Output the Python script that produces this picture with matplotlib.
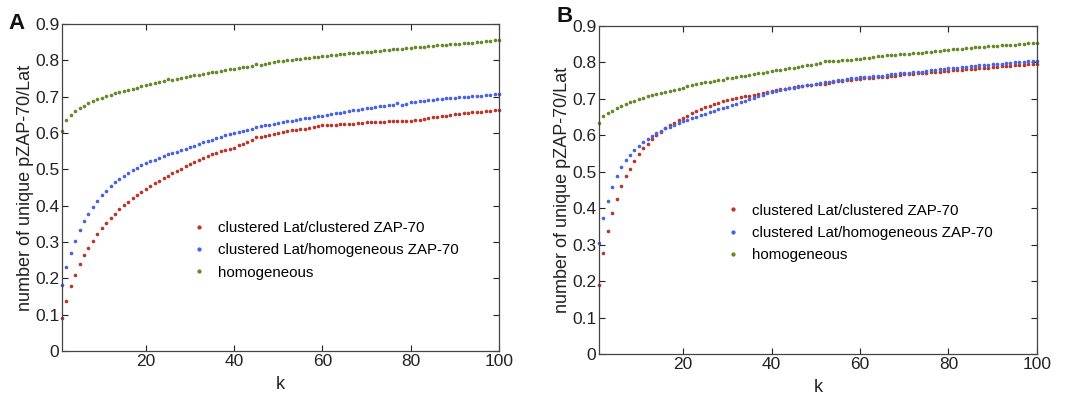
import matplotlib.pyplot as plt

plt.rcParams['font.family'] = ['Liberation Sans', 'DejaVu Sans']

k = list(range(1, 101))

# panel A
a_red = [0.090, 0.138, 0.180, 0.210, 0.240, 0.264, 0.284, 0.304, 0.322, 0.338,
         0.352, 0.366, 0.378, 0.390, 0.401, 0.411, 0.421, 0.430, 0.439, 0.447,
         0.455, 0.462, 0.469, 0.476, 0.483, 0.490, 0.496, 0.502, 0.508, 0.514,
         0.520, 0.525, 0.531, 0.536, 0.541, 0.545, 0.550, 0.554, 0.557, 0.560,
         0.566, 0.571, 0.576, 0.581, 0.588, 0.589, 0.591, 0.595, 0.598, 0.600,
         0.603, 0.605, 0.607, 0.609, 0.612, 0.612, 0.614, 0.617, 0.619, 0.621,
         0.622, 0.623, 0.622, 0.624, 0.625, 0.625, 0.626, 0.627, 0.628, 0.629,
         0.630, 0.630, 0.631, 0.631, 0.632, 0.633, 0.634, 0.634, 0.632, 0.633,
         0.635, 0.637, 0.639, 0.641, 0.643, 0.645, 0.647, 0.648, 0.650, 0.651,
         0.653, 0.655, 0.656, 0.657, 0.658, 0.659, 0.660, 0.661, 0.662, 0.663]
a_blue = [0.182, 0.230, 0.270, 0.304, 0.333, 0.357, 0.377, 0.397, 0.413, 0.428,
          0.441, 0.453, 0.464, 0.474, 0.483, 0.491, 0.498, 0.505, 0.511, 0.517,
          0.522, 0.527, 0.532, 0.537, 0.541, 0.545, 0.549, 0.553, 0.557, 0.561,
          0.565, 0.570, 0.575, 0.578, 0.582, 0.586, 0.590, 0.594, 0.597, 0.600,
          0.603, 0.606, 0.609, 0.612, 0.617, 0.619, 0.621, 0.623, 0.626, 0.628,
          0.630, 0.632, 0.634, 0.636, 0.638, 0.640, 0.642, 0.644, 0.646, 0.648,
          0.650, 0.652, 0.654, 0.656, 0.658, 0.660, 0.662, 0.664, 0.666, 0.668,
          0.670, 0.671, 0.673, 0.675, 0.676, 0.678, 0.682, 0.678, 0.681, 0.684,
          0.686, 0.688, 0.689, 0.690, 0.692, 0.693, 0.694, 0.695, 0.696, 0.697,
          0.698, 0.699, 0.700, 0.701, 0.702, 0.703, 0.704, 0.705, 0.706, 0.707]
a_green = [0.605, 0.635, 0.650, 0.660, 0.668, 0.675, 0.682, 0.688, 0.693, 0.697,
           0.701, 0.705, 0.709, 0.713, 0.716, 0.719, 0.722, 0.725, 0.728, 0.731,
           0.734, 0.737, 0.740, 0.743, 0.749, 0.747, 0.749, 0.752, 0.755, 0.757,
           0.759, 0.761, 0.763, 0.765, 0.767, 0.769, 0.771, 0.773, 0.775, 0.777,
           0.779, 0.781, 0.783, 0.785, 0.790, 0.788, 0.790, 0.792, 0.795, 0.797,
           0.798, 0.800, 0.801, 0.803, 0.804, 0.806, 0.807, 0.809, 0.810, 0.812,
           0.813, 0.814, 0.816, 0.817, 0.818, 0.819, 0.820, 0.821, 0.822, 0.823,
           0.824, 0.826, 0.827, 0.828, 0.829, 0.830, 0.831, 0.832, 0.834, 0.835,
           0.836, 0.837, 0.838, 0.839, 0.840, 0.841, 0.842, 0.843, 0.844, 0.845,
           0.846, 0.847, 0.848, 0.849, 0.850, 0.851, 0.852, 0.853, 0.855, 0.857]

# panel B
b_red = [0.188, 0.276, 0.338, 0.386, 0.425, 0.461, 0.487, 0.508, 0.530, 0.548,
         0.565, 0.577, 0.589, 0.600, 0.610, 0.619, 0.627, 0.635, 0.642, 0.648,
         0.654, 0.660, 0.666, 0.672, 0.677, 0.681, 0.685, 0.689, 0.693, 0.697,
         0.700, 0.703, 0.705, 0.707, 0.709, 0.711, 0.713, 0.716, 0.719, 0.722,
         0.724, 0.726, 0.728, 0.730, 0.732, 0.734, 0.736, 0.738, 0.739, 0.740,
         0.741, 0.742, 0.744, 0.746, 0.748, 0.750, 0.752, 0.753, 0.754, 0.755,
         0.756, 0.757, 0.758, 0.759, 0.760, 0.761, 0.762, 0.763, 0.765, 0.767,
         0.768, 0.769, 0.770, 0.771, 0.772, 0.773, 0.774, 0.775, 0.776, 0.777,
         0.778, 0.779, 0.780, 0.781, 0.782, 0.783, 0.784, 0.785, 0.786, 0.787,
         0.788, 0.789, 0.790, 0.791, 0.792, 0.793, 0.794, 0.795, 0.796, 0.797]
b_blue = [0.305, 0.374, 0.421, 0.458, 0.487, 0.514, 0.532, 0.547, 0.560, 0.572,
          0.582, 0.591, 0.599, 0.606, 0.613, 0.619, 0.624, 0.629, 0.634, 0.639,
          0.643, 0.647, 0.651, 0.655, 0.659, 0.663, 0.667, 0.671, 0.675, 0.679,
          0.683, 0.687, 0.691, 0.695, 0.699, 0.703, 0.707, 0.711, 0.715, 0.718,
          0.721, 0.724, 0.727, 0.729, 0.731, 0.733, 0.735, 0.737, 0.739, 0.741,
          0.743, 0.745, 0.747, 0.749, 0.751, 0.753, 0.755, 0.757, 0.758, 0.759,
          0.760, 0.761, 0.762, 0.763, 0.764, 0.765, 0.767, 0.769, 0.770, 0.771,
          0.772, 0.773, 0.774, 0.775, 0.776, 0.778, 0.780, 0.782, 0.783, 0.784,
          0.785, 0.786, 0.787, 0.788, 0.789, 0.790, 0.792, 0.793, 0.794, 0.795,
          0.796, 0.797, 0.798, 0.799, 0.800, 0.801, 0.802, 0.803, 0.804, 0.805]
b_green = [0.635, 0.652, 0.660, 0.668, 0.675, 0.681, 0.686, 0.691, 0.695, 0.699,
           0.703, 0.707, 0.710, 0.713, 0.716, 0.719, 0.722, 0.725, 0.728, 0.731,
           0.734, 0.737, 0.740, 0.743, 0.745, 0.747, 0.749, 0.751, 0.753, 0.756,
           0.758, 0.760, 0.762, 0.764, 0.766, 0.768, 0.770, 0.772, 0.774, 0.776,
           0.778, 0.780, 0.782, 0.784, 0.786, 0.788, 0.790, 0.792, 0.794, 0.796,
           0.798, 0.805, 0.803, 0.804, 0.805, 0.806, 0.807, 0.808, 0.809, 0.810,
           0.811, 0.813, 0.815, 0.817, 0.818, 0.819, 0.820, 0.821, 0.822, 0.823,
           0.824, 0.825, 0.826, 0.827, 0.828, 0.829, 0.830, 0.831, 0.833, 0.835,
           0.836, 0.837, 0.838, 0.839, 0.840, 0.841, 0.842, 0.843, 0.844, 0.845,
           0.846, 0.847, 0.848, 0.849, 0.849, 0.850, 0.851, 0.852, 0.853, 0.854]

labels = ['clustered Lat/clustered ZAP-70',
          'clustered Lat/homogeneous ZAP-70',
          'homogeneous']
colors = ['#b8382c', '#4a63e0', '#66892a']
xticks = [20, 40, 60, 80, 100]
yticks = [0, 0.1, 0.2, 0.3, 0.4, 0.5, 0.6, 0.7, 0.8, 0.9]
ytick_labels = ['0', '0.1', '0.2', '0.3', '0.4', '0.5', '0.6', '0.7', '0.8', '0.9']

fig = plt.figure(figsize=(10.65, 3.96), dpi=100)
axA = fig.add_axes([0.0582, 0.1136, 0.4103, 0.8258])
axB = fig.add_axes([0.5624, 0.1061, 0.4113, 0.8283])

# axes, data, letter, legend anchor, letter position
panels = [(axA, [a_red, a_blue, a_green], 'A', (0.265, 0.20), (-0.122, 1.0)),
          (axB, [b_red, b_blue, b_green], 'B', (0.258, 0.262), (-0.097, 1.03))]

for ax, series, letter, legpos, letpos in panels:
    for ys, c, lab in zip(series, colors, labels):
        ax.plot(k, ys, '.', color=c, markersize=3.2, label=lab, clip_on=False)
    ax.set_xlim(1, 100)
    ax.set_ylim(0, 0.9)
    ax.set_xticks(xticks)
    ax.set_yticks(yticks)
    ax.set_yticklabels(ytick_labels)
    ax.tick_params(direction='in', top=True, right=True, length=4, width=0.8,
                   labelsize=12.5, pad=2, colors='#222222')
    for s in ax.spines.values():
        s.set_color('#444444')
        s.set_linewidth(0.9)
    ax.set_xlabel('k', fontsize=13, color='#222222', labelpad=5)
    ax.set_ylabel('number of unique pZAP-70/Lat', fontsize=13, color='#222222', labelpad=1)
    ax.legend(loc='lower left', bbox_to_anchor=legpos, frameon=False,
              fontsize=10.8, handletextpad=0.3, labelspacing=0.55,
              markerscale=1.3, borderaxespad=0)
    ax.text(letpos[0], letpos[1], letter, transform=ax.transAxes, fontsize=16,
            fontweight='bold', va='center', ha='left', color='#111111')

fig.savefig('out.png', dpi=100)
